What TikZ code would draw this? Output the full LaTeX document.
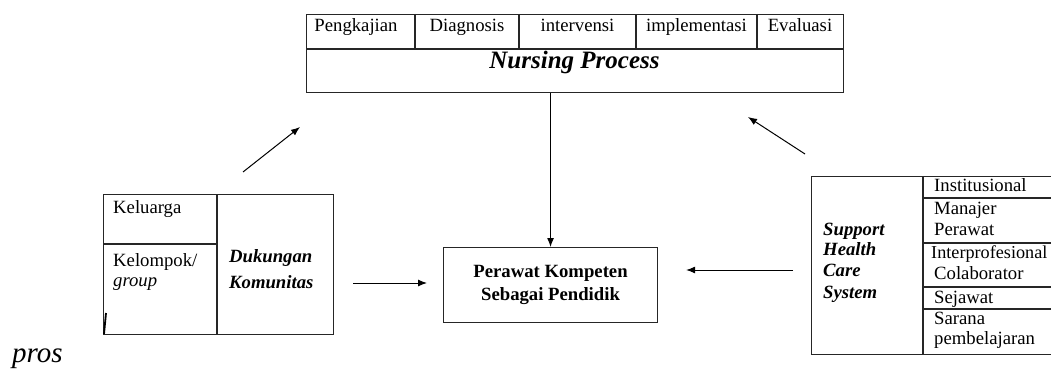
\documentclass[tikz,border=0pt]{standalone}
\usepackage{fontspec}
\setmainfont{Liberation Serif}
\usetikzlibrary{arrows.meta, positioning}

\begin{document}
\begin{tikzpicture}[x=1pt, y=-1pt,
    box/.style={draw=black!85, line width=1.1pt, inner sep=0pt},
    rule/.style={draw=black!85, line width=1.1pt},
    lbl/.style={font=\fontsize{18.7}{21}\selectfont, inner sep=0pt, anchor=base west},
    cell/.style={font=\fontsize{18.7}{21}\selectfont, inner sep=0pt, anchor=base},
    bilbl/.style={lbl, font=\fontsize{18.7}{21}\selectfont\bfseries\itshape},
    arr/.style={-{Latex[length=9pt, width=7pt]}, line width=1pt}]
    \useasboundingbox (0,0) rectangle (1051,374);

    % nursing process table
    \node (np) [box, minimum width=537pt, minimum height=78pt, anchor=north west] at (306,14) {};
    \draw[rule] (306,49) -- (843,49);
    \foreach \cx in {415, 519, 636, 757}
        \draw[rule] (\cx,14) -- (\cx,49);
    \node[cell] (pkj) at (356,32) {Pengkajian};
    \node[cell] (dgn) at (467,32) {Diagnosis};
    \node[cell] (itv) at (577.5,32) {intervensi};
    \node[cell] (imp) at (696.5,32) {implementasi};
    \node[cell] (evl) at (800,32) {Evaluasi};
    \node[cell, font=\fontsize{25}{28}\selectfont\bfseries\itshape] (nptxt) at (574.5,69) {Nursing Process};

    % perawat kompeten
    \node (pk) [box, minimum width=214pt, minimum height=75pt, anchor=north west,
        align=center, font=\fontsize{18.7}{23}\selectfont\bfseries] at (443,247)
        {Perawat Kompeten\\Sebagai Pendidik};

    % dukungan komunitas
    \node (dk) [box, minimum width=230pt, minimum height=140pt, anchor=north west] at (103,194) {};
    \draw[rule] (217,194) -- (217,334);
    \draw[rule] (103,244) -- (217,244);
    \node[lbl] (klg) at (113,213) {Keluarga};
    \node[lbl] (klp) at (113,266) {Kelompok/};
    \node[lbl, font=\fontsize{18.7}{21}\selectfont\itshape] (grp) at (113,286) {group};
    \node[bilbl] (dkg) at (229,262) {Dukungan};
    \node[bilbl] (kom) at (229,288) {Komunitas};
    \draw[line width=1.8pt] (104,334) -- (106,313);

    % support health care system
    \node (sh) [box, minimum width=245pt, minimum height=178pt, anchor=north west] at (811,176) {};
    \draw[rule] (923,176) -- (923,354);
    \foreach \cy in {198, 243, 287, 309}
        \draw[rule] (923,\cy) -- (1056,\cy);
    \node[lbl] (ins) at (934,191) {Institusional};
    \node[lbl] (mnj) at (934,214) {Manajer};
    \node[lbl] (prw) at (934,235) {Perawat};
    \node[lbl, font=\fontsize{18.2}{21}\selectfont] (itp) at (931,258) {Interprofesional};
    \node[lbl] (clb) at (934,279) {Colaborator};
    \node[lbl] (sjw) at (934,303) {Sejawat};
    \node[lbl] (srn) at (934,324) {Sarana};
    \node[lbl] (pmb) at (934,344) {pembelajaran};
    \node[bilbl] (sup) at (823,235) {Support};
    \node[bilbl] (hlt) at (823,255) {Health};
    \node[bilbl] (car) at (823,276) {Care};
    \node[bilbl] (sys) at (823,298) {System};

    % arrows
    \draw[arr] (np.south -| pk.north) -- (pk.north);
    \draw[arr, shorten <=19pt, shorten >=16pt] (dk.east |- 0,283) -- (pk.west |- 0,283);
    \draw[arr, shorten <=18pt, shorten >=28pt] (sh.west |- 0,270) -- (pk.east |- 0,270);
    \coordinate (lfrom) at (243,172);
    \coordinate (lto) at (300,127);
    \coordinate (rfrom) at (805,154);
    \coordinate (rto) at (748,117);
    \draw[arr] (lfrom) -- (lto);
    \draw[arr] (rfrom) -- (rto);

    \node[lbl, font=\fontsize{29}{32}\selectfont\itshape] (prs) at (12,362) {pros};
\end{tikzpicture}
\end{document}
